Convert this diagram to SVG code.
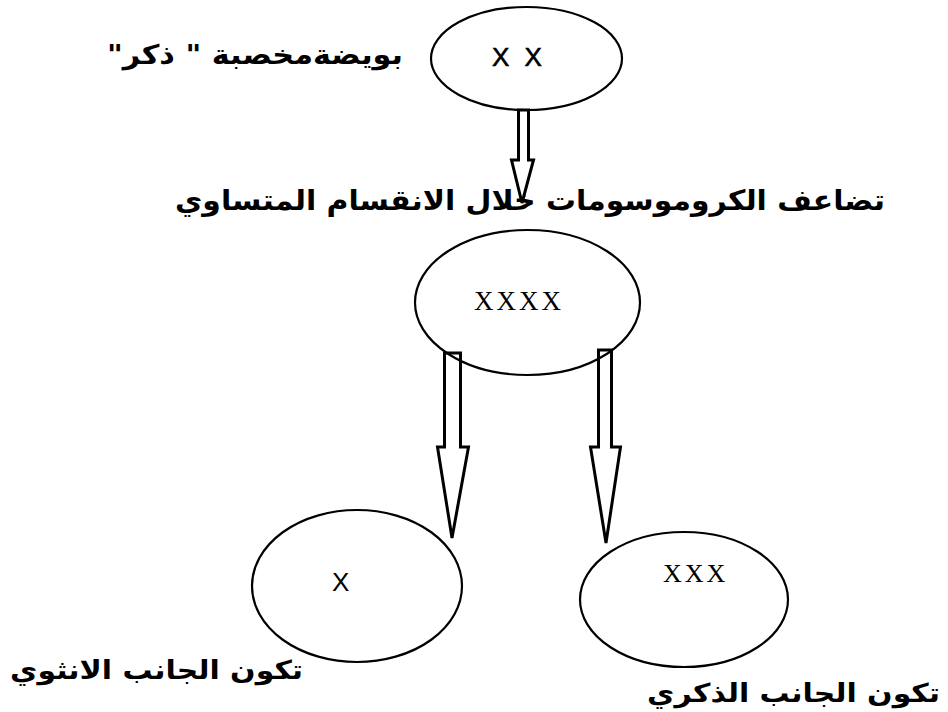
<svg xmlns="http://www.w3.org/2000/svg" width="948" height="712" viewBox="0 0 948 712">
  <style>
    .node { fill: none; stroke: #000; stroke-width: 2.2; }
    .arrow { fill: #fff; stroke: #000; stroke-width: 3; stroke-linejoin: miter; }
    .ar { font-family: "DejaVu Sans", "Noto Sans", sans-serif; font-weight: bold; fill: #000; text-anchor: middle; direction: rtl; unicode-bidi: embed; }
    .sans { font-family: "Liberation Sans", Arial, sans-serif; fill: #000; }
    .serif { font-family: "Liberation Serif", "Times New Roman", serif; fill: #000; }
  </style>
  <rect width="948" height="712" fill="#fff"/>

  <g id="connectors">
    <polygon class="arrow" points="518.5,110 528.5,110 528.5,160 533.5,160 522,203 511.5,160 518.5,160"/>
    <polygon class="arrow" points="444.5,353 460.5,353 460.5,447 468.5,447 452,538 437.5,447 444.5,447"/>
    <polygon class="arrow" points="598.5,350 611.5,350 611.5,447 620.5,447 606,543 590.5,447 598.5,447"/>
  </g>

  <g id="node-zygote">
    <ellipse class="node" cx="526.5" cy="58.5" rx="95.5" ry="51.5"/>
    <text class="sans" x="492" y="66" font-size="26" letter-spacing="4" stroke="#000" stroke-width="0.6">X X</text>
  </g>
  <g id="label-zygote">
    <text class="ar" x="255" y="64" font-size="27" textLength="296" lengthAdjust="spacingAndGlyphs">بويضةمخصبة " ذكر"</text>
  </g>

  <g id="label-duplication">
    <text class="ar" x="530" y="210" font-size="28" textLength="710" lengthAdjust="spacingAndGlyphs">تضاعف الكروموسومات خلال الانقسام المتساوي</text>
  </g>

  <g id="node-mitosis">
    <ellipse class="node" cx="527.5" cy="302.5" rx="112.5" ry="72.5"/>
    <text class="serif" x="474" y="310" font-size="27" letter-spacing="3">XXXX</text>
  </g>

  <g id="node-female">
    <ellipse class="node" cx="357" cy="586" rx="105" ry="76"/>
    <text class="sans" x="332" y="591" font-size="26">X</text>
  </g>
  <g id="label-female">
    <text class="ar" x="156.5" y="679" font-size="26" textLength="293" lengthAdjust="spacingAndGlyphs">تكون الجانب الانثوي</text>
  </g>

  <g id="node-male">
    <ellipse class="node" cx="684" cy="599.5" rx="104" ry="67.5"/>
    <text class="serif" x="663" y="582" font-size="26" letter-spacing="3">XXX</text>
  </g>
  <g id="label-male">
    <text class="ar" x="793.5" y="702" font-size="26" textLength="293" lengthAdjust="spacingAndGlyphs">تكون الجانب الذكري</text>
  </g>
</svg>
